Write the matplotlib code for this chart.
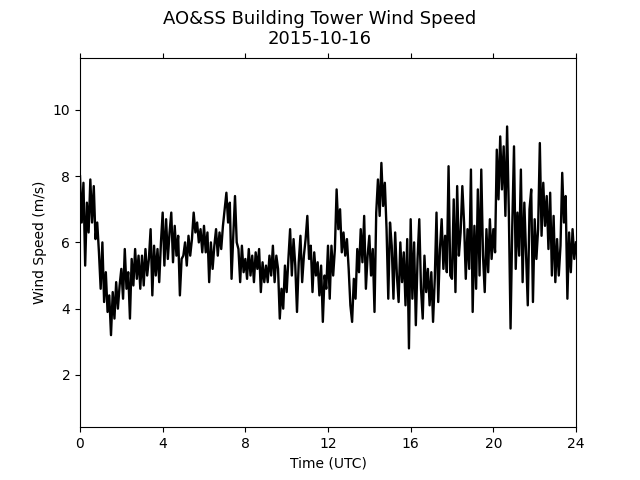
import numpy as np
import matplotlib
matplotlib.use('Agg')
import matplotlib.pyplot as plt

# 5-minute wind speed readings (m/s), one row per hour
speed = [
    8.0, 6.6, 7.8, 5.3, 7.2, 6.3, 7.9, 6.6, 7.7, 6.1, 6.6, 5.7,
    4.6, 6.0, 4.2, 5.1, 3.9, 4.4, 3.2, 4.5, 3.7, 4.8, 4.0, 4.7,
    5.2, 4.3, 5.8, 4.6, 5.1, 3.7, 5.5, 4.7, 5.8, 4.9, 5.6, 4.6,
    5.6, 4.7, 5.8, 5.0, 5.5, 6.4, 4.4, 5.9, 5.0, 5.8, 4.8, 6.0,
    6.9, 5.3, 6.7, 5.5, 6.3, 6.9, 5.4, 6.5, 5.6, 6.2, 4.4, 5.5,
    5.6, 6.0, 5.3, 6.2, 5.6, 6.1, 6.9, 6.3, 6.6, 6.0, 6.4, 5.7,
    6.5, 5.7, 6.3, 4.8, 6.0, 5.2, 5.9, 6.4, 5.6, 6.3, 5.8, 6.5,
    7.0, 7.5, 6.6, 7.2, 4.9, 6.2, 7.4, 6.0, 5.8, 4.8, 5.9, 5.1,
    5.5, 4.9, 5.8, 5.0, 5.6, 4.8, 5.7, 5.2, 5.8, 4.5, 5.4, 4.8,
    5.3, 4.8, 5.6, 5.0, 5.9, 4.8, 5.6, 5.2, 3.7, 4.6, 4.0, 5.3,
    4.5, 5.5, 6.4, 5.0, 6.1, 5.3, 3.9, 5.4, 6.2, 4.8, 5.6, 6.1,
    6.8, 5.5, 5.9, 4.5, 5.7, 5.0, 5.4, 4.4, 5.3, 3.6, 5.0, 4.6,
    5.9, 4.3, 5.9, 5.0, 5.8, 7.6, 6.4, 7.0, 5.7, 6.3, 5.6, 6.1,
    5.2, 4.1, 3.6, 4.9, 4.3, 5.8, 5.1, 6.4, 5.4, 6.8, 4.6, 5.6,
    6.2, 5.0, 5.8, 3.9, 6.9, 7.9, 6.8, 8.4, 7.1, 7.8, 6.4, 4.3,
    6.6, 5.9, 4.3, 6.3, 5.0, 4.2, 6.0, 4.8, 5.7, 4.1, 6.1, 2.8,
    6.7, 4.3, 6.0, 3.5, 5.5, 6.7, 4.6, 3.7, 5.6, 4.5, 5.2, 4.1,
    5.1, 3.6, 4.9, 6.9, 4.2, 5.8, 6.7, 5.2, 6.2, 5.1, 8.3, 5.0,
    4.9, 7.3, 4.5, 7.7, 5.6, 6.3, 7.7, 6.6, 4.9, 6.4, 5.2, 8.2,
    3.9, 6.5, 4.6, 7.6, 5.0, 8.2, 5.6, 4.5, 6.4, 5.1, 6.7, 5.5,
    6.4, 5.7, 8.8, 7.3, 9.2, 7.6, 8.9, 6.8, 9.5, 6.9, 3.4, 6.5,
    8.9, 5.2, 6.9, 5.6, 8.2, 4.8, 7.2, 5.6, 4.1, 7.0, 7.6, 4.2,
    6.7, 5.5, 6.4, 9.0, 6.2, 7.8, 6.5, 7.4, 5.8, 7.5, 5.0, 6.8,
    4.8, 6.1, 5.0, 5.9, 8.1, 6.6, 7.4, 4.3, 6.3, 5.1, 6.4, 5.5,
    6.0,
]
hours = np.linspace(0, 24, len(speed))

xticks = [0, 4, 8, 12, 16, 20, 24]
yticks = [2, 4, 6, 8, 10]

fig, ax = plt.subplots(figsize=(6.4, 4.8), dpi=100)
ax.plot(hours, speed, color='black', linewidth=1.7)

ax.set_xlim(0, 24)
ax.set_ylim(0.42, 11.58)
ax.set_xticks(xticks)
ax.set_yticks(yticks)
ax.tick_params(top=True)

ax.set_xlabel('Time (UTC)')
ax.set_ylabel('Wind Speed (m/s)')
fig.suptitle('AO&SS Building Tower Wind Speed\n2015-10-16', fontsize=13)

fig.savefig('out.png')
